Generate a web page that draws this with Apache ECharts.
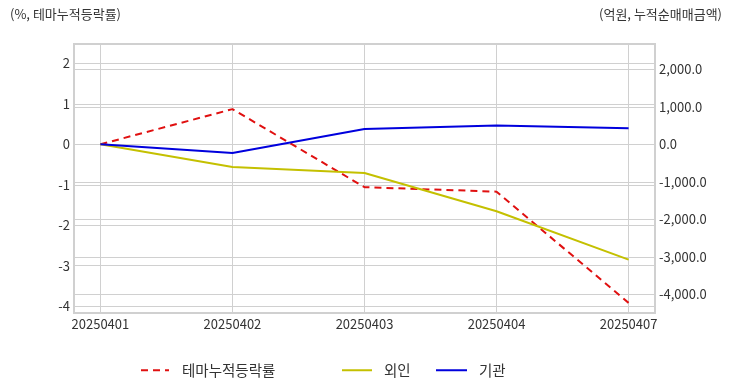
<!DOCTYPE html>
<html><head><meta charset="utf-8">
<script src="https://cdn.jsdelivr.net/npm/echarts@6/dist/echarts.min.js"></script>
<style>html,body{margin:0;padding:0;background:#fff}#c{width:732px;height:392px}</style>
</head><body><div id="c"></div>
<script>
const dates = ['20250401','20250402','20250403','20250404','20250407'];
const themeRate = [0, 0.87, -1.06, -1.17, -3.92];
const foreign = [0, -605, -765, -1787, -3075];
const institution = [0, -232, 408, 498, 427];
const leftTitle = '(%, 테마누적등락률)';
const rightTitle = '(억원, 누적순매매금액)';

const FONT = '"Noto Sans CJK KR", "Noto Sans", sans-serif';
const pairs = arr => arr.map((v, i) => [i, v]);
const chart = echarts.init(document.getElementById('c'));
const legendCommon = { top: 358, itemHeight: 14, itemStyle: { opacity: 0 }, textStyle: { fontSize: 14.5, color: '#333', fontFamily: FONT } };
chart.setOption({
  animation: false,
  textStyle: { fontFamily: FONT },
  title: [
    { text: leftTitle, left: 5, top: 3, textStyle: { fontSize: 13, fontWeight: 'normal', color: '#333', fontFamily: FONT } },
    { text: rightTitle, right: 5, top: 3, textStyle: { fontSize: 13, fontWeight: 'normal', color: '#333', fontFamily: FONT } }
  ],
  grid: { left: 74, right: 77, top: 44, bottom: 79, show: true, borderColor: '#d0d0d0', borderWidth: 2, containLabel: false },
  legend: [
    Object.assign({}, legendCommon, { data: ['테마누적등락률'], left: 135, itemWidth: 28, textStyle: Object.assign({}, legendCommon.textStyle, { padding: [0, 0, 0, 8] }) }),
    Object.assign({}, legendCommon, { data: ['외인'], left: 336, itemWidth: 30, textStyle: Object.assign({}, legendCommon.textStyle, { padding: [0, 0, 0, 7] }) }),
    Object.assign({}, legendCommon, { data: ['기관'], left: 430, itemWidth: 31, textStyle: Object.assign({}, legendCommon.textStyle, { padding: [0, 0, 0, 7] }) })
  ],
  xAxis: {
    type: 'value', min: -0.2, max: 4.2, splitNumber: 5,
    axisLine: { show: false }, axisTick: { show: false },
    axisLabel: { showMinLabel: false, showMaxLabel: false, fontSize: 13, color: '#333', margin: 5,
      formatter: v => (Number.isInteger(v) && dates[v] !== undefined) ? dates[v] : '' },
    splitLine: { show: true, lineStyle: { color: '#d0d0d0', width: 1 } }
  },
  yAxis: [
    { type: 'value', min: -4.17, max: 2.48, splitNumber: 7, position: 'left',
      axisLine: { show: false }, axisTick: { show: false },
      axisLabel: { showMinLabel: false, showMaxLabel: false, fontSize: 13, color: '#333', margin: 4 },
      splitLine: { show: true, lineStyle: { color: '#d0d0d0', width: 1 } } },
    { type: 'value', min: -4500, max: 2675, splitNumber: 7, position: 'right',
      axisLine: { show: false }, axisTick: { show: false },
      axisLabel: { showMinLabel: false, showMaxLabel: false, fontSize: 13, color: '#333', margin: 4,
        formatter: v => v.toLocaleString('en-US', { minimumFractionDigits: 1, maximumFractionDigits: 1 }) },
      splitLine: { show: true, lineStyle: { color: '#d0d0d0', width: 1 } } }
  ],
  series: [
    { name: '테마누적등락률', type: 'line', yAxisIndex: 0, data: pairs(themeRate), symbol: 'none',
      lineStyle: { color: '#e01010', width: 2, type: [7, 5] }, itemStyle: { color: '#e01010' } },
    { name: '외인', type: 'line', yAxisIndex: 1, data: pairs(foreign), symbol: 'none',
      lineStyle: { color: '#c4c000', width: 2 }, itemStyle: { color: '#c4c000' } },
    { name: '기관', type: 'line', yAxisIndex: 1, data: pairs(institution), symbol: 'none',
      lineStyle: { color: '#0000dd', width: 2 }, itemStyle: { color: '#0000dd' } }
  ]
});
</script></body></html>
